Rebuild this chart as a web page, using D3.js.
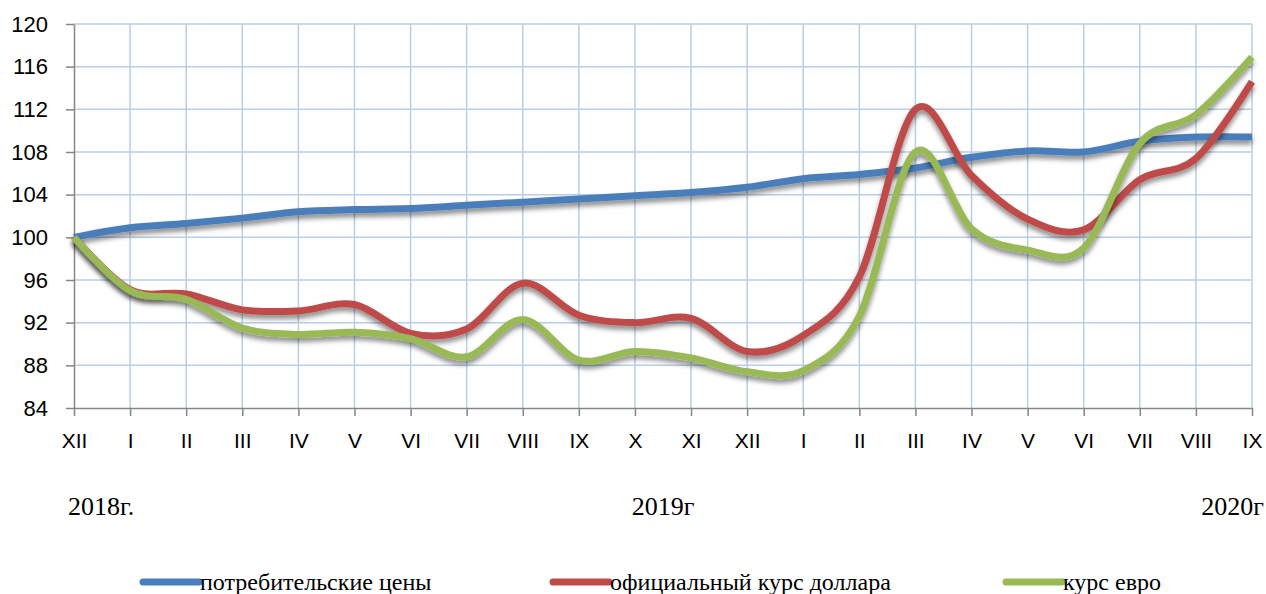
<!DOCTYPE html>
<html lang="ru">
<head>
  <meta charset="UTF-8">
  <title>Индексы</title>
  <script src="https://d3js.org/d3.v7.min.js"></script>
  <style>
    body { margin: 0; background: #fff; }
    svg { display: block; }
    .grid line { stroke: #b9cde5; stroke-width: 1.5; }
    .axis path, .axis line { stroke: #868686; stroke-width: 1.5; }
    .axis text { font-family: "Liberation Sans", Arial, sans-serif; fill: #000; }
    .year, .legend text { font-family: "Liberation Serif", "Times New Roman", serif; fill: #000; }
  </style>
</head>
<body>
<svg width="1266" height="594"></svg>
<script>
const width = 1266, height = 594;
const margin = { left: 74, right: 14, top: 24, bottom: 186 };

// === Data ===
const months = ["XII", "I", "II", "III", "IV", "V", "VI", "VII", "VIII", "IX", "X", "XI",
                "XII", "I", "II", "III", "IV", "V", "VI", "VII", "VIII", "IX"];
const years = [
  { label: "2018г.", at: 0 },
  { label: "2019г", at: 10.5 },
  { label: "2020г", at: 21 }
];
const cpi = [100, 100.9, 101.3, 101.8, 102.4, 102.6, 102.7, 103.0, 103.3, 103.6, 103.9, 104.2,
             104.7, 105.5, 105.9, 106.5, 107.5, 108.1, 108.0, 109.0, 109.4, 109.4];
const usd = [100, 95.1, 94.7, 93.2, 93.1, 93.7, 91.0, 91.4, 95.7, 92.7, 92.0, 92.4,
             89.3, 90.8, 96.3, 112.0, 105.8, 101.7, 100.7, 105.4, 107.4, 114.6];
const eur = [100, 95.0, 94.2, 91.5, 90.9, 91.1, 90.5, 88.8, 92.3, 88.5, 89.3, 88.7,
             87.4, 87.5, 92.6, 108.0, 100.8, 98.8, 99.0, 108.8, 111.5, 116.9];
const yTicks = [84, 88, 92, 96, 100, 104, 108, 112, 116, 120];

const series = [
  { name: "потребительские цены", values: cpi, color: "#4a7ebb" },
  { name: "официальный курс доллара", values: usd, color: "#be4b48" },
  { name: "курс евро", values: eur, color: "#98b954" }
];

const svg = d3.select("svg");

const x = d3.scaleLinear()
  .domain([0, months.length - 1])
  .range([margin.left, width - margin.right]);
const y = d3.scaleLinear()
  .domain([84, 120])
  .range([height - margin.bottom, margin.top]);

// shadow under the lines
const defs = svg.append("defs");
defs.append("filter")
  .attr("id", "shadow")
  .attr("x", "-5%").attr("y", "-20%").attr("width", "110%").attr("height", "140%")
  .append("feDropShadow")
  .attr("dx", 0).attr("dy", 4).attr("stdDeviation", 2.5)
  .attr("flood-color", "#000").attr("flood-opacity", 0.45);

// === Grid ===
const grid = svg.append("g").attr("class", "grid");
grid.selectAll(".h")
  .data(yTicks.slice(1))
  .join("line")
  .attr("x1", x(0)).attr("x2", x(months.length - 1))
  .attr("y1", d => y(d)).attr("y2", d => y(d));
grid.selectAll(".v")
  .data(d3.range(1, months.length))
  .join("line")
  .attr("x1", d => x(d)).attr("x2", d => x(d))
  .attr("y1", y(84)).attr("y2", y(120));

// === Axes ===
const yAxis = svg.append("g")
  .attr("class", "axis")
  .attr("transform", `translate(${margin.left},0)`)
  .call(d3.axisLeft(y).tickValues(yTicks).tickSize(8).tickSizeOuter(0).tickPadding(18));
yAxis.selectAll("text").style("font-size", "22px");

const xAxis = svg.append("g")
  .attr("class", "axis")
  .attr("transform", `translate(0,${y(84)})`)
  .call(d3.axisBottom(x).tickValues(d3.range(months.length))
    .tickFormat(i => months[i]).tickSize(8).tickSizeOuter(0).tickPadding(17));
xAxis.selectAll("text").style("font-size", "21px");

// === Lines ===
const line = d3.line()
  .x((d, i) => x(i))
  .y(d => y(d))
  .curve(d3.curveCardinal.tension(0));

svg.append("g")
  .selectAll("path")
  .data(series)
  .join("path")
  .attr("d", d => line(d.values))
  .attr("fill", "none")
  .attr("stroke", d => d.color)
  .attr("stroke-width", 7)
  .attr("stroke-linejoin", "round")
  .attr("filter", "url(#shadow)");

// === Year labels ===
svg.append("g")
  .selectAll("text")
  .data(years)
  .join("text")
  .attr("class", "year")
  .attr("x", d => x(d.at))
  .attr("y", 515)
  .attr("text-anchor", (d, i) => i === 0 ? "start" : i === years.length - 1 ? "end" : "middle")
  .attr("dx", (d, i) => i === 0 ? -6 : i === years.length - 1 ? 12 : 0)
  .style("font-size", "26px")
  .text(d => d.label);

// === Legend ===
const legendX = [143, 553, 1006];
const legend = svg.append("g")
  .attr("class", "legend")
  .selectAll("g")
  .data(series)
  .join("g")
  .attr("transform", (d, i) => `translate(${legendX[i]},582)`);
legend.append("line")
  .attr("x1", 0).attr("x2", 56)
  .attr("stroke", d => d.color)
  .attr("stroke-width", 7)
  .attr("stroke-linecap", "round");
legend.append("text")
  .attr("x", 57)
  .attr("dy", "0.33em")
  .style("font-size", "24px")
  .text(d => d.name);
</script>
</body>
</html>
